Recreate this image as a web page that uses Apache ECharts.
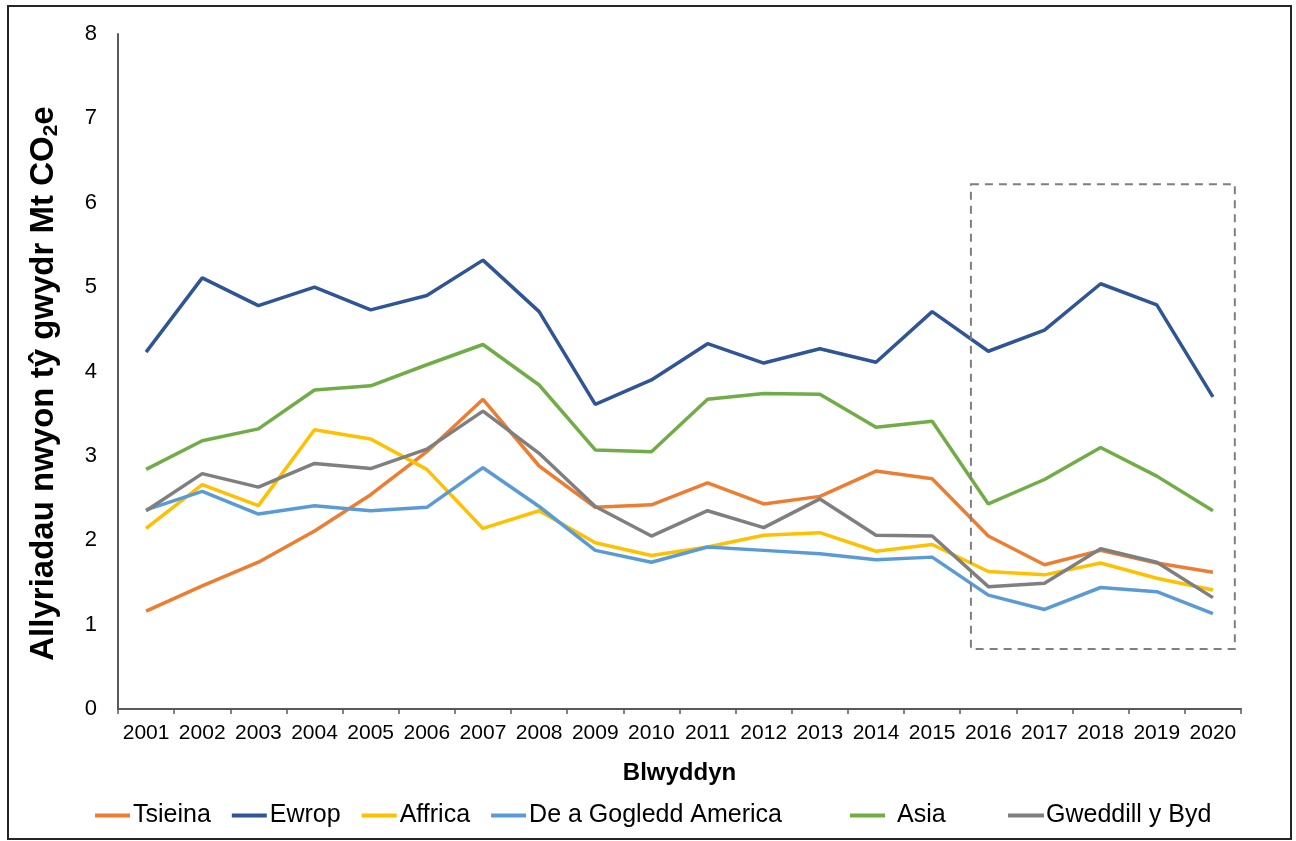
<!DOCTYPE html>
<html>
<head>
<meta charset="utf-8">
<script src="https://cdn.jsdelivr.net/npm/echarts@6/dist/echarts.min.js"></script>
<style>
    html, body { margin: 0; padding: 0; background: #fff; }
    #frame {
        position: absolute; left: 7px; top: 5px; width: 1281px; height: 831px;
        border: 2px solid #262626;
    }
    #main { position: absolute; left: 0; top: 0; width: 1296px; height: 841px; }
</style>
</head>
<body>
<div id="frame"></div>
<div id="main"></div>
<script>
// blynyddoedd
const years = ['2001', '2002', '2003', '2004', '2005', '2006', '2007', '2008', '2009', '2010',
    '2011', '2012', '2013', '2014', '2015', '2016', '2017', '2018', '2019', '2020'];

const tsieina = [1.16, 1.46, 1.74, 2.11, 2.54, 3.05, 3.67, 2.88, 2.39, 2.42,
    2.68, 2.43, 2.52, 2.82, 2.73, 2.05, 1.71, 1.88, 1.73, 1.62];
const ewrop = [4.23, 5.11, 4.78, 5.00, 4.73, 4.90, 5.32, 4.71, 3.61, 3.90,
    4.33, 4.10, 4.27, 4.11, 4.71, 4.24, 4.49, 5.04, 4.79, 3.70];
const affrica = [2.14, 2.66, 2.41, 3.31, 3.20, 2.84, 2.14, 2.35, 1.97, 1.82,
    1.92, 2.06, 2.09, 1.87, 1.95, 1.63, 1.59, 1.73, 1.55, 1.41];
const americas = [2.36, 2.58, 2.31, 2.41, 2.35, 2.39, 2.86, 2.40, 1.88, 1.74,
    1.92, 1.88, 1.84, 1.77, 1.80, 1.35, 1.18, 1.44, 1.39, 1.13];
const asia = [2.84, 3.18, 3.32, 3.78, 3.83, 4.08, 4.32, 3.84, 3.07, 3.05,
    3.67, 3.74, 3.73, 3.34, 3.41, 2.43, 2.72, 3.10, 2.76, 2.35];
const gweddill = [2.35, 2.79, 2.63, 2.91, 2.85, 3.08, 3.53, 3.03, 2.40, 2.05,
    2.35, 2.15, 2.49, 2.06, 2.05, 1.45, 1.49, 1.90, 1.74, 1.32];

const seriesNames = ['Tsieina', 'Ewrop', 'Affrica', 'De a Gogledd America', 'Asia', 'Gweddill y Byd'];
const seriesData = [tsieina, ewrop, affrica, americas, asia, gweddill];
const colors = ['#ED7D31', '#2F5597', '#FFC000', '#5B9BD5', '#70AD47', '#7F7F7F'];

// y ticks
const yMin = 0, yMax = 8, yStep = 1;

// blwch llinell doriad (2016-2020)
const boxTop = 6.22, boxBottom = 0.71;

const FONT = '"Liberation Sans", Arial, sans-serif';

const chart = echarts.init(document.getElementById('main'));

const legendStyle = {
    top: 798,
    itemWidth: 35,
    itemHeight: 4,
    itemGap: 21,
    icon: 'rect',
    textStyle: { color: '#000', fontSize: 25, fontFamily: FONT, padding: [0, 0, 0, -2] }
};

const option = {
    backgroundColor: 'transparent',
    animation: false,
    color: colors,
    grid: {
        left: 118,
        right: 55,
        top: 34,
        bottom: 132,
        containLabel: false
    },
    legend: [
        Object.assign({}, legendStyle, { left: 90, data: seriesNames.slice(0, 4) }),
        Object.assign({}, legendStyle, {
            left: 845, data: [seriesNames[4]],
            textStyle: Object.assign({}, legendStyle.textStyle, { padding: [0, 0, 0, 7] })
        }),
        Object.assign({}, legendStyle, {
            left: 1003, itemWidth: 36, data: [seriesNames[5]],
            textStyle: Object.assign({}, legendStyle.textStyle, { padding: [0, 0, 0, -3] })
        })
    ],
    xAxis: {
        type: 'category',
        data: years,
        boundaryGap: true,
        name: 'Blwyddyn',
        nameLocation: 'middle',
        nameGap: 52,
        nameTextStyle: { color: '#000', fontSize: 24, fontWeight: 'bold', fontFamily: FONT },
        axisLine: { lineStyle: { color: '#595959', width: 2 } },
        axisTick: { show: true, length: 5, lineStyle: { color: '#595959', width: 1.5 } },
        axisLabel: { color: '#000', fontSize: 21, fontFamily: FONT, margin: 14, interval: 0 },
        splitLine: { show: false }
    },
    yAxis: {
        type: 'value',
        min: yMin,
        max: yMax,
        interval: yStep,
        name: 'Allyriadau nwyon tŷ gwydr Mt CO{sub|2}e',
        nameLocation: 'middle',
        nameRotate: 90,
        nameGap: 56,
        nameTextStyle: {
            color: '#000', fontSize: 33, fontWeight: 'bold', fontFamily: FONT,
            padding: [0, 24, 0, 0],
            rich: {
                sub: { fontSize: 21, fontWeight: 'bold', fontFamily: FONT, color: '#000', padding: [16, 0, 0, 0] }
            }
        },
        axisLine: { show: true, lineStyle: { color: '#595959', width: 2 } },
        axisTick: { show: false },
        axisLabel: { color: '#000', fontSize: 22, fontFamily: FONT, margin: 21 },
        splitLine: { show: false }
    },
    series: seriesNames.map((name, i) => ({
        name: name,
        type: 'line',
        data: seriesData[i],
        symbol: 'none',
        smooth: false,
        lineStyle: { width: 3.5, color: colors[i] },
        itemStyle: { color: colors[i] }
    }))
};

chart.setOption(option);

// blwch doriad o gwmpas 2016-2020
const c16 = chart.convertToPixel({ xAxisIndex: 0 }, '2016');
const c17 = chart.convertToPixel({ xAxisIndex: 0 }, '2017');
const c20 = chart.convertToPixel({ xAxisIndex: 0 }, '2020');
const band = c17 - c16;
const yTopPx = chart.convertToPixel({ yAxisIndex: 0 }, boxTop);
const yBotPx = chart.convertToPixel({ yAxisIndex: 0 }, boxBottom);
const x1 = c16 - band * 0.31;
const x2 = c20 + band * 0.39;

chart.setOption({
    graphic: [{
        type: 'rect',
        shape: { x: x1, y: yTopPx, width: x2 - x1, height: yBotPx - yTopPx },
        style: { fill: 'none', stroke: '#7F7F7F', lineWidth: 2, lineDash: [8, 6] },
        silent: true,
        z: 10
    }]
});
</script>
</body>
</html>
